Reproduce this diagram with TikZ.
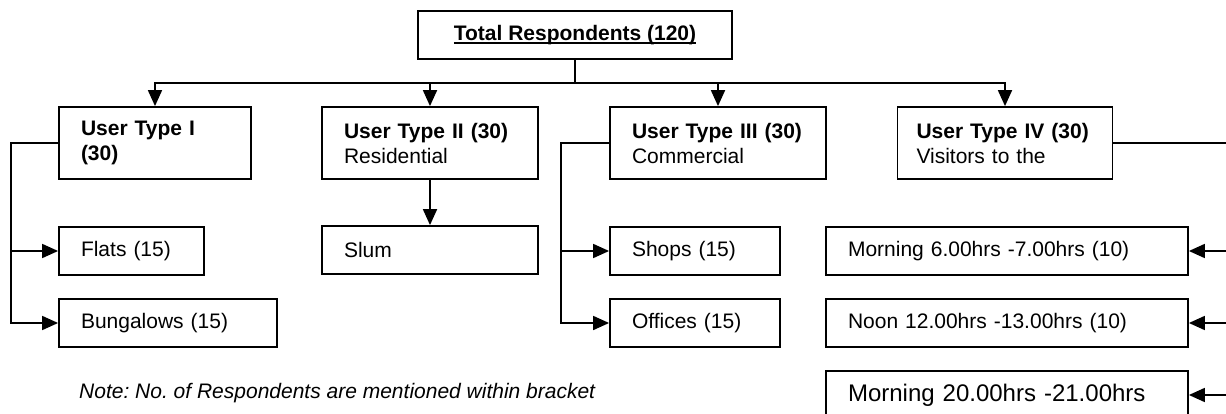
\documentclass[tikz,border=0pt]{standalone}
\usepackage{fontspec}
\setmainfont{Liberation Sans}
\usetikzlibrary{positioning, arrows.meta}
\frenchspacing

% thick underline for the heading
\newcommand{\headline}[1]{\setbox0\hbox{#1}\rlap{\copy0}\rule[-3.6pt]{\wd0}{1.9pt}}

\tikzset{
  box/.style={draw, rectangle, line width=1.8pt, inner xsep=22pt, inner ysep=0pt,
    align=left, font=\fontsize{21}{25}\selectfont},
  link/.style={line width=1.8pt},
  arrowlink/.style={link, -{Triangle[length=16pt, width=14pt]}},
}

\begin{document}
\begin{tikzpicture}[x=1pt, y=-1pt]
    \useasboundingbox (0,0) rectangle (1226,414);

    % Top box
    \node[box, align=center, minimum width=314pt, minimum height=48pt] (total) at (575,35)
      {\headline{\bfseries Total Respondents (120)}};

    % User types
    \node[box, text width=148pt, minimum height=72pt] (typeI) at (155,143)
      {\bfseries User Type I\\(30)};
    \node[box, text width=172pt, minimum height=72pt] (typeII) at (430,143)
      {\textbf{User Type II (30)}\\Residential};
    \node[box, text width=172pt, minimum height=72pt] (typeIII) at (718,143)
      {\textbf{User Type III (30)}\\Commercial};
    \node[box, text width=177pt, inner xsep=19pt, minimum height=72pt] (typeIV) at (1005,143)
      {\mbox{\textbf{User Type IV (30)}}\\Visitors to the};

    % Sub groups
    \node[box, text width=101pt, minimum height=48pt] (flats) at (131.5,251) {Flats (15)};
    \node[box, text width=174pt, minimum height=48pt] (bungalows) at (168,323) {Bungalows (15)};
    \node[box, text width=172pt, minimum height=48pt] (slum) at (430,250) {Slum};
    \node[box, text width=126pt, minimum height=48pt] (shops) at (695,251) {Shops (15)};
    \node[box, text width=126pt, minimum height=48pt] (offices) at (695,323) {Offices (15)};
    \node[box, text width=318pt, minimum height=48pt] (morning) at (1007,251)
      {Morning 6.00hrs -7.00hrs (10)};
    \node[box, text width=318pt, minimum height=48pt] (noon) at (1007,323)
      {Noon 12.00hrs -13.00hrs (10)};
    \node[box, text width=318pt, minimum height=48pt, font=\fontsize{24}{28}\selectfont] (evening) at (1007,395)
      {Morning 20.00hrs -21.00hrs};

    % Note
    \node[anchor=west, inner sep=0pt, font=\fontsize{21}{25}\selectfont\itshape] (note) at (79,393)
      {Note: No. of Respondents are mentioned within bracket};

    % Connectors from the top box
    \foreach \t in {typeI, typeII, typeIII, typeIV}
      \draw[arrowlink] (total.south) -- ++(0,23) -| (\t.north);

    % Left branches
    \foreach \t in {flats, bungalows}
      \draw[arrowlink] (typeI.west) -- ++(-47,0) |- (\t.west);
    \draw[arrowlink] (typeII.south) -- (slum.north);
    \foreach \t in {shops, offices}
      \draw[arrowlink] (typeIII.west) -- ++(-48,0) |- (\t.west);

    % Right branches
    \coordinate (rail) at (1232,143);
    \draw[link] (typeIV.east) -- (rail) -- ++(0,252);
    \foreach \t in {morning, noon, evening}
      \draw[arrowlink] (rail |- \t.east) -- (\t.east);

\end{tikzpicture}
\end{document}
